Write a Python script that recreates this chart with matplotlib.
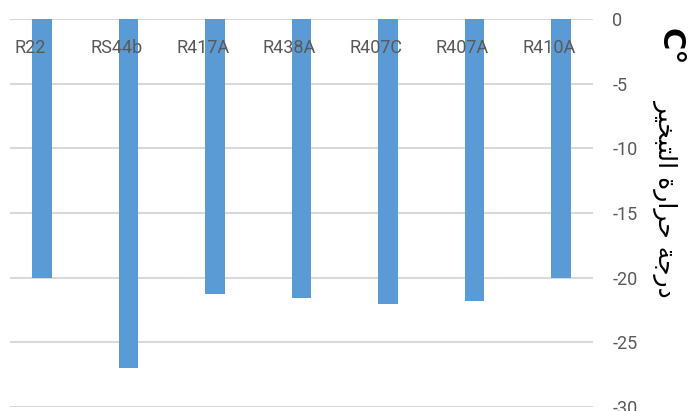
import matplotlib
matplotlib.use("Agg")
import matplotlib.pyplot as plt
from matplotlib.ticker import FixedLocator, FuncFormatter

refrigerants = ["R22", "RS44b", "R417A", "R438A", "R407C", "R407A", "R410A"]
evap_temp = [-20.0, -27.0, -21.3, -21.6, -22.0, -21.8, -20.0]
y_ticks = [0, -5, -10, -15, -20, -25, -30]

# "درجة حرارة التبخير" in Arabic presentation forms, visual (LTR) order,
# because matplotlib does no Arabic shaping / bidi on its own.
logical = ("\uFEA9\uFEAD\uFE9F\uFE94 "
           "\uFEA3\uFEAE\uFE8D\uFEAD\uFE93 "
           "\uFE8D\uFEDF\uFE98\uFE92\uFEA8\uFEF4\uFEAE")
ylabel_ar = logical[::-1]
ylabel_unit = "C\u00b0"

BAR = "#5b9bd5"
GRID = "#d9d9d9"
TXT = "#595959"

plt.rcParams["font.family"] = ["Liberation Sans Narrow", "Roboto", "DejaVu Sans"]
plt.rcParams["axes.unicode_minus"] = False

fig = plt.figure(figsize=(6.9, 4.11), dpi=100)
ax = fig.add_axes([10 / 690, 4 / 411, 583 / 690, 388 / 411])

x = list(range(len(refrigerants)))
ax.bar(x, evap_temp, width=0.22, color=BAR, zorder=2)

ax.set_xlim(-0.37, 6.37)
ax.set_ylim(-30, 0)
for s in ax.spines.values():
    s.set_visible(False)
ax.set_xticks([])
ax.yaxis.set_major_locator(FixedLocator(y_ticks))
ax.yaxis.set_major_formatter(FuncFormatter(lambda v, p: f"{int(v)}"))
ax.yaxis.tick_right()
ax.tick_params(axis="y", length=0, pad=14, labelsize=13, labelcolor=TXT)
for lab in ax.get_yticklabels():
    lab.set_horizontalalignment("left")
ax.yaxis.grid(True, color=GRID, lw=1.5, zorder=0)
ax.set_axisbelow(True)

for xi, name in zip(x, refrigerants):
    ax.text(xi - 0.14, -2.24, name, ha="center", va="center",
            fontsize=13, color=TXT, zorder=3)

fig.text(670 / 690, 1 - 47 / 411, ylabel_unit, rotation=270, ha="center",
         va="center", fontsize=22, fontweight="bold", color="black",
         family="DejaVu Sans")
fig.text(666 / 690, 1 - 198 / 411, ylabel_ar, rotation=270, ha="center",
         va="center", fontsize=18, color="black", family="DejaVu Sans")

fig.savefig("out.png", dpi=100)
